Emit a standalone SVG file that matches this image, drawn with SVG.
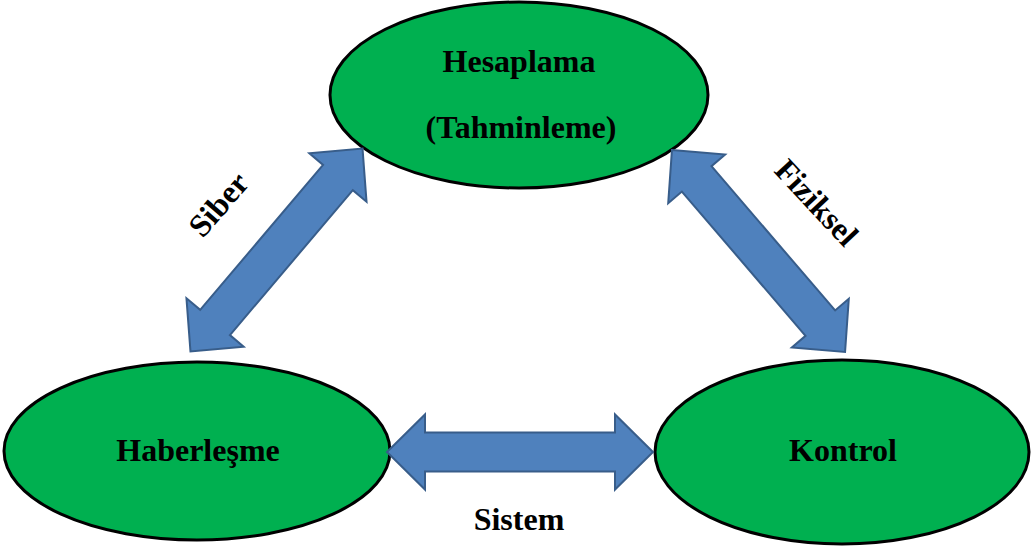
<svg xmlns="http://www.w3.org/2000/svg" width="1035" height="550" viewBox="0 0 1035 550">
  <style>
    .node { fill: #00B050; stroke: #000000; stroke-width: 3; }
    .label { font-family: "Liberation Serif", "Times New Roman", serif; font-weight: bold; font-size: 32px; fill: #000000; text-anchor: middle; }
    .link { fill: #4F81BD; stroke: #385D8A; stroke-width: 2; stroke-linejoin: miter; }
  </style>
  <defs>
    <!-- double-headed block arrow, 266 long, centred on the origin -->
    <path id="dblArrow" d="M-133,0 L-95,-37.5 L-95,-19.5 L95,-19.5 L95,-37.5 L133,0 L95,37.5 L95,19.5 L-95,19.5 L-95,37.5 Z"/>
  </defs>
  <rect width="1035" height="550" fill="#FFFFFF"/>

  <g id="node-hesaplama">
    <ellipse class="node" cx="519" cy="95" rx="189" ry="93"/>
    <text class="label" x="519" y="72">Hesaplama</text>
    <text class="label" x="521" y="138">(Tahminleme)</text>
  </g>

  <g id="node-haberlesme">
    <ellipse class="node" cx="197" cy="451" rx="193" ry="89"/>
    <text class="label" x="198" y="461">Haberleşme</text>
  </g>

  <g id="node-kontrol">
    <ellipse class="node" cx="842" cy="452" rx="187" ry="92"/>
    <text class="label" x="843" y="461">Kontrol</text>
  </g>

  <g id="connectors">
    <use href="#dblArrow" class="link" transform="translate(276.5,250) rotate(-49.7)"/>
    <use href="#dblArrow" class="link" transform="translate(758.5,251) rotate(49.4)"/>
    <use href="#dblArrow" class="link" transform="translate(520,452)"/>
    <text class="label" transform="translate(219,205) rotate(-49)" x="0" y="10">Siber</text>
    <text class="label" transform="translate(816,203) rotate(47)" x="0" y="10">Fiziksel</text>
    <text class="label" x="519" y="530">Sistem</text>
  </g>
</svg>
